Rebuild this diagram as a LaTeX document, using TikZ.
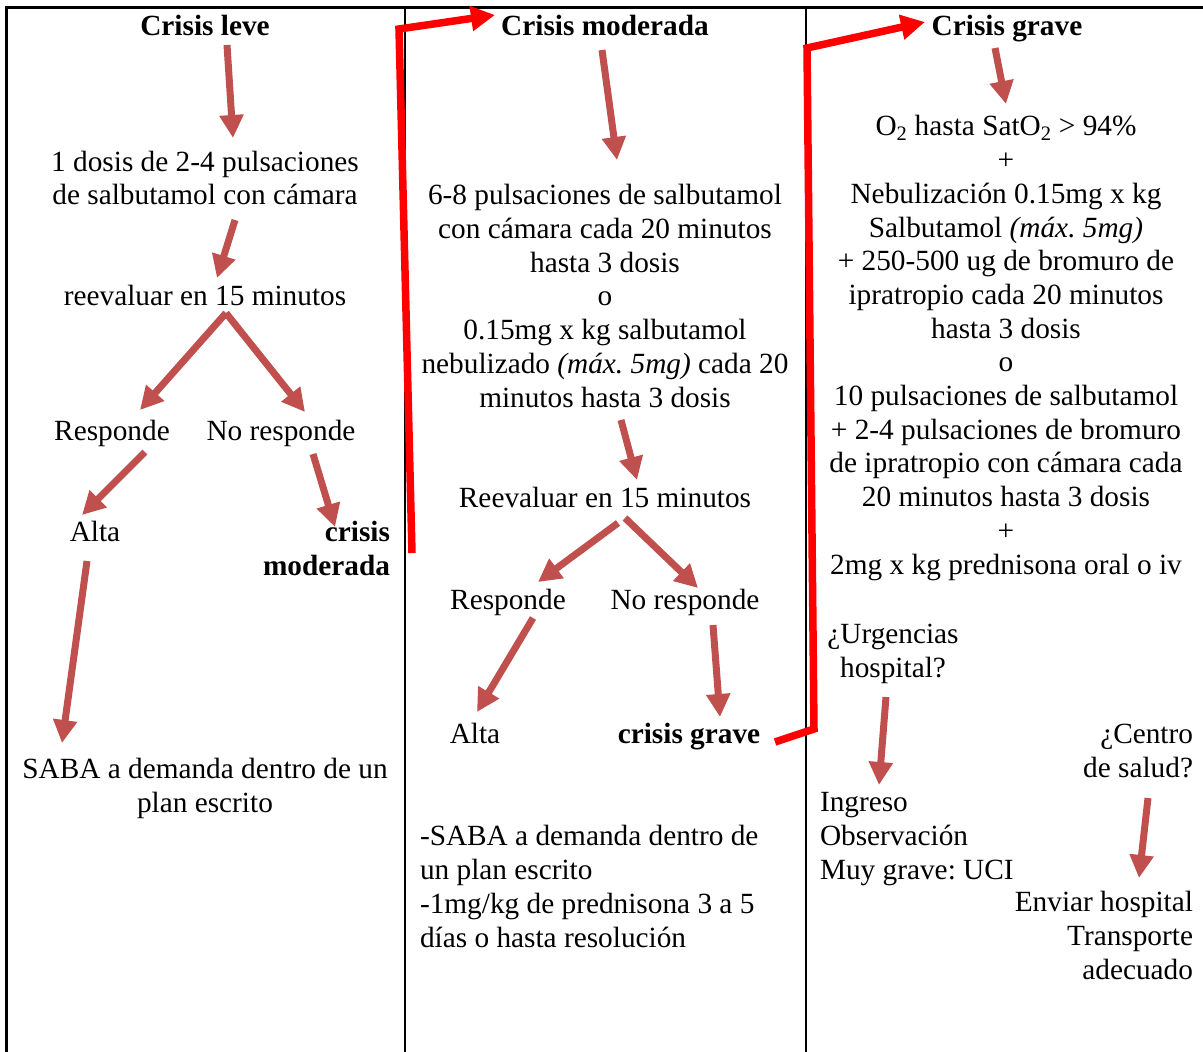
\documentclass[tikz,border=0pt]{standalone}
\usepackage{fontspec}
\setmainfont{Liberation Serif}
\usetikzlibrary{arrows.meta}
\definecolor{brn}{HTML}{C0504D}
\definecolor{rd}{HTML}{FF0000}
\begin{document}
\begin{tikzpicture}[x=1pt,y=-1pt,
  every node/.style={inner sep=0pt,outer sep=0pt,font=\fontsize{29.3}{33.7}\selectfont\frenchspacing},
  lbl/.style={anchor=base},
  ctr/.style={anchor=base,align=center},
  lft/.style={anchor=base west,align=left},
  rgt/.style={anchor=base east,align=right},
  barrow/.style={draw=brn,line width=7pt,-{Triangle[width=23pt,length=23pt]}},
  rarrow/.style={draw=rd,line width=7.5pt,line join=miter,-{Triangle[width=24pt,length=24pt]}},
  frame/.style={draw=black}
]
\useasboundingbox (0,0) rectangle (1203,1052);
% frame lines
\draw[frame,line width=3pt] (5,7) -- (1203,7);
\draw[frame,line width=3pt] (6,7) -- (6,1052);
\draw[frame,line width=1.5pt] (405,7) -- (405,1052);
\draw[frame,line width=2.5pt] (806,7) -- (806,1052);

% column 1 (multi-line nodes are placed at the baseline of their last line)
\node[lbl] (leve) at (205,35) {\textbf{Crisis leve}};
\node[ctr] (dosis) at (205,204.7) {1 dosis de 2-4 pulsaciones\\de salbutamol con cámara};
\node[lbl] (reev1) at (205,305) {reevaluar en 15 minutos};
\node[lbl] (resp1) at (112,440) {Responde};
\node[lbl] (noresp1) at (281,440) {No responde};
\node[lbl] (alta1) at (95,541) {Alta};
\node[rgt] (crimod) at (390,575) {\textbf{crisis}\\\textbf{moderada}};
\node[ctr] (saba1) at (205,812) {SABA a demanda dentro de un\\plan escrito};

% column 2
\node[lbl] (mod) at (605,35) {\textbf{Crisis moderada}};
\node[ctr] (trat2) at (605,407) {6-8 pulsaciones de salbutamol\\con cámara cada 20 minutos\\hasta 3 dosis\\o\\0.15mg x kg salbutamol\\nebulizado \textit{(máx. 5mg)} cada 20\\minutos hasta 3 dosis};
\node[lbl] (reev2) at (605,507) {Reevaluar en 15 minutos};
\node[lbl] (resp2) at (508,609) {Responde};
\node[lbl] (noresp2) at (685,609) {No responde};
\node[lbl] (alta2) at (475,743) {Alta};
\node[lbl] (cgrave) at (689,743) {\textbf{crisis grave}};
\node[lft] (saba2) at (420,947) {-SABA a demanda dentro de\\un plan escrito\\-1mg/kg de prednisona 3 a 5\\días o hasta resolución};

% column 3
\node[lbl] (grave) at (1007,35) {\textbf{Crisis grave}};
\node[ctr] (trat3) at (1006,574) {O\textsubscript{2} hasta SatO\textsubscript{2} > 94\%\\+\\Nebulización 0.15mg x kg\\Salbutamol \textit{(máx. 5mg)}\\+ 250-500 ug de bromuro de\\ipratropio cada 20 minutos\\hasta 3 dosis\\o\\10 pulsaciones de salbutamol\\+ 2-4 pulsaciones de bromuro\\de ipratropio con cámara cada\\20 minutos hasta 3 dosis\\+\\2mg x kg prednisona oral o iv};
\node[ctr] (urg) at (893,677) {¿Urgencias\\hospital?};
\node[rgt] (centro) at (1193,777) {¿Centro\\de salud?};
\node[lft] (ingreso) at (820,879) {Ingreso\\Observación\\Muy grave: UCI};
\node[rgt] (enviar) at (1193,979) {Enviar hospital\\Transporte\\adecuado};

% connector end points
\coordinate (leve-o) at (227,45);   \coordinate (dosis-i) at (233,138);
\coordinate (dosis-o) at (235,220); \coordinate (reev1-i) at (217,278);
\coordinate (reev1-o) at (226,313); \coordinate (resp1-i) at (140,410);
\coordinate (noresp1-i) at (305,412);
\coordinate (resp1-o) at (145,452); \coordinate (alta1-i) at (82,515);
\coordinate (noresp1-o) at (313,454); \coordinate (crimod-i) at (335,527);
\coordinate (alta1-o) at (87,561);  \coordinate (saba1-i) at (62,743);

\coordinate (mod-o) at (602,50);    \coordinate (trat2-i) at (617,160);
\coordinate (trat2-o) at (621,420); \coordinate (reev2-i) at (637,480);
\coordinate (reev2-ol) at (618,523); \coordinate (resp2-i) at (538,582);
\coordinate (reev2-or) at (625,518); \coordinate (noresp2-i) at (698,588);
\coordinate (resp2-o) at (533,618); \coordinate (alta2-i) at (477,712);
\coordinate (noresp2-o) at (713,625); \coordinate (cgrave-i) at (720,717);

\coordinate (grave-o) at (995,48);  \coordinate (trat3-i) at (1006,104);
\coordinate (urg-o) at (886,697);   \coordinate (ingreso-i) at (879,785);
\coordinate (centro-o) at (1148,798); \coordinate (enviar-i) at (1139,878);

% red connectors
\coordinate (crimod-o) at (412,553);
\coordinate (r1) at (399,29);
\coordinate (mod-i) at (495,15);
\coordinate (cgrave-o) at (775,742);
\coordinate (r2) at (814,729);
\coordinate (r3) at (807,48);
\coordinate (grave-i) at (925,22);

% brown arrows
\draw[barrow] (leve-o) -- (dosis-i);
\draw[barrow] (dosis-o) -- (reev1-i);
\draw[barrow] (reev1-o) -- (resp1-i);
\draw[barrow] (reev1-o) -- (noresp1-i);
\draw[barrow] (resp1-o) -- (alta1-i);
\draw[barrow] (noresp1-o) -- (crimod-i);
\draw[barrow] (alta1-o) -- (saba1-i);
\draw[barrow] (mod-o) -- (trat2-i);
\draw[barrow] (trat2-o) -- (reev2-i);
\draw[barrow] (reev2-ol) -- (resp2-i);
\draw[barrow] (reev2-or) -- (noresp2-i);
\draw[barrow] (resp2-o) -- (alta2-i);
\draw[barrow] (noresp2-o) -- (cgrave-i);
\draw[barrow] (grave-o) -- (trat3-i);
\draw[barrow] (urg-o) -- (ingreso-i);
\draw[barrow] (centro-o) -- (enviar-i);

% red arrows
\draw[rarrow] (crimod-o) -- (r1) -- (mod-i);
\draw[rarrow] (cgrave-o) -- (r2) -- (r3) -- (grave-i);
\end{tikzpicture}
\end{document}
